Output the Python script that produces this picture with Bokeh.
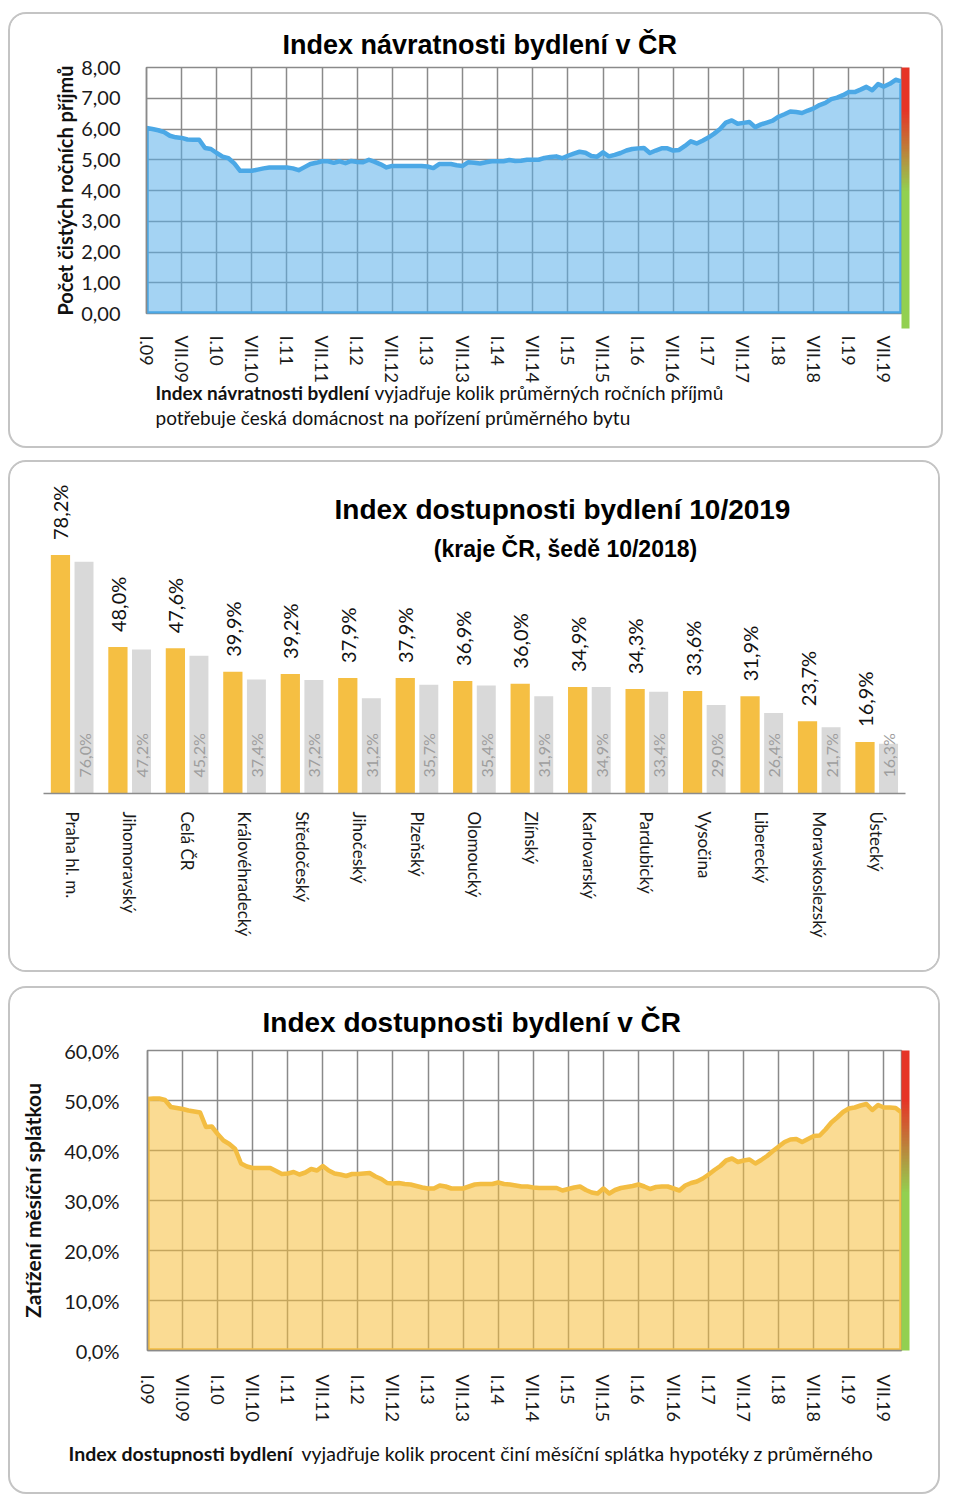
import math
from bokeh.plotting import figure
from bokeh.models import (ColumnDataSource, FixedTicker, Label, ColorBar, Title,
                          LinearColorMapper, Range1d, FactorRange)
from bokeh.transform import dodge
from bokeh.embed import file_html
from bokeh.resources import INLINE
from bokeh.core.properties import value

# ---------------- data ----------------
half_year_labels = ["I.09", "VII.09", "I.10", "VII.10", "I.11", "VII.11", "I.12", "VII.12",
                    "I.13", "VII.13", "I.14", "VII.14", "I.15", "VII.15", "I.16", "VII.16",
                    "I.17", "VII.17", "I.18", "VII.18", "I.19", "VII.19"]

# Index návratnosti bydlení (monthly, I.2009 - X.2019), násobek ročních příjmů
return_index = [6.03, 6.00, 5.96, 5.90, 5.78, 5.73, 5.71, 5.66, 5.65, 5.65,
                5.38, 5.35, 5.22, 5.10, 5.05, 4.88, 4.64, 4.64, 4.64, 4.68,
                4.72, 4.75, 4.75, 4.75, 4.75, 4.72, 4.66, 4.76, 4.86, 4.90,
                4.95, 4.95, 4.90, 4.95, 4.89, 4.96, 4.93, 4.92, 5.00, 4.93,
                4.85, 4.75, 4.80, 4.80, 4.80, 4.80, 4.80, 4.80, 4.78, 4.73,
                4.86, 4.86, 4.86, 4.82, 4.80, 4.92, 4.90, 4.88, 4.92, 4.95,
                4.95, 4.95, 4.99, 4.96, 4.97, 5.00, 5.00, 5.00, 5.06, 5.09,
                5.11, 5.05, 5.13, 5.20, 5.26, 5.23, 5.12, 5.10, 5.24, 5.11,
                5.16, 5.22, 5.30, 5.35, 5.37, 5.38, 5.22, 5.30, 5.37, 5.37,
                5.30, 5.32, 5.45, 5.60, 5.53, 5.62, 5.72, 5.85, 6.00, 6.21,
                6.28, 6.17, 6.20, 6.23, 6.06, 6.15, 6.21, 6.27, 6.40, 6.48,
                6.57, 6.55, 6.52, 6.60, 6.67, 6.78, 6.85, 6.97, 7.02, 7.10,
                7.20, 7.20, 7.28, 7.37, 7.26, 7.46, 7.38, 7.47, 7.60, 7.55]

# Index dostupnosti bydlení (monthly, I.2009 - X.2019), % příjmu
afford_index = [50.3, 50.4, 50.4, 50.1, 48.7, 48.5, 48.3, 48.0, 47.8, 47.6,
                44.7, 44.8, 43.3, 42.0, 41.3, 40.3, 37.4, 36.8, 36.5, 36.5,
                36.5, 36.5, 35.9, 35.3, 35.4, 35.7, 35.2, 35.6, 36.3, 36.0,
                36.9, 36.0, 35.4, 35.2, 34.9, 35.3, 35.3, 35.4, 35.5, 34.8,
                34.3, 33.5, 33.4, 33.5, 33.3, 33.2, 32.9, 32.6, 32.4, 32.4,
                33.0, 32.8, 32.4, 32.4, 32.4, 32.8, 33.2, 33.3, 33.3, 33.3,
                33.6, 33.3, 33.2, 33.0, 32.8, 32.8, 32.6, 32.5, 32.5, 32.5,
                32.5, 32.0, 32.3, 32.6, 32.8, 32.1, 31.6, 31.4, 32.4, 31.4,
                32.1, 32.5, 32.7, 32.9, 33.2, 32.8, 32.3, 32.7, 32.8, 32.8,
                32.4, 32.0, 33.0, 33.5, 33.8, 34.4, 35.2, 36.1, 36.9, 38.0,
                38.4, 37.7, 38.0, 38.2, 37.4, 38.1, 38.9, 39.9, 40.8, 41.7,
                42.2, 42.3, 41.7, 42.3, 42.9, 43.0, 44.2, 45.6, 46.6, 47.7,
                48.4, 48.6, 49.0, 49.3, 48.1, 49.1, 48.6, 48.6, 48.5, 47.6]

top_y_ticks = [0, 1, 2, 3, 4, 5, 6, 7, 8]
top_y_labels = ["0,00", "1,00", "2,00", "3,00", "4,00", "5,00", "6,00", "7,00", "8,00"]
bot_y_ticks = [0, 10, 20, 30, 40, 50, 60]
bot_y_labels = ["0,0%", "10,0%", "20,0%", "30,0%", "40,0%", "50,0%", "60,0%"]

regions = ["Praha hl. m.", "Jihomoravský", "Celá ČR", "Královéhradecký", "Středočeský",
           "Jihočeský", "Plzeňský", "Olomoucký", "Zlínský", "Karlovarský", "Pardubický",
           "Vysočina", "Liberecký", "Moravskoslezský", "Ústecký"]
values_2019 = [78.2, 48.0, 47.6, 39.9, 39.2, 37.9, 37.9, 36.9, 36.0, 34.9, 34.3, 33.6, 31.9, 23.7, 16.9]
values_2018 = [76.0, 47.2, 45.2, 37.4, 37.2, 31.2, 35.7, 35.4, 31.9, 34.9, 33.4, 29.0, 26.4, 21.7, 16.3]

# ---------------- style ----------------
TXT_FONT = "Lato"
TITLE_FONT = "Liberation Sans"
GRID = "#8a8a8a"
BORDER = "2px solid #C4C4C4"
FULL_PANEL = {"border": BORDER, "border-radius": "18px", "overflow": "hidden"}
TOP_PART = {"border": BORDER, "border-bottom": "none", "border-radius": "18px 18px 0 0",
            "overflow": "hidden"}
BOTTOM_PART = {"border": BORDER, "border-top": "none", "border-radius": "0 0 18px 18px",
               "overflow": "hidden"}


def gradient_palette():
    green = (0x92, 0xD0, 0x50)
    red = (0xE6, 0x34, 0x26)
    pal = []
    for i in range(100):
        if i < 52:
            t = 0.0
        elif i >= 83:
            t = 1.0
        else:
            t = (i - 52) / 31.0
        c = tuple(int(round(g + (r - g) * t)) for g, r in zip(green, red))
        pal.append("#%02x%02x%02x" % c)
    return pal


def add_colorbar(p, height):
    cb = ColorBar(color_mapper=LinearColorMapper(palette=gradient_palette(), low=0, high=1),
                  ticker=FixedTicker(ticks=[]), width=8, height=height, padding=0, margin=0,
                  location="top_left", bar_line_color=None, border_line_color=None,
                  background_fill_alpha=0, major_tick_line_color=None,
                  minor_tick_line_color=None)
    p.add_layout(cb, "right")


def label(p, x, y, text, size, bold=False, font=TXT_FONT, align="left", color="#111111",
          dx=0, dy=0):
    p.add_layout(Label(x=x, y=y, x_offset=dx, y_offset=dy, text=text,
                       text_font=font, text_font_size=f"{size}px",
                       text_font_style="bold" if bold else "normal",
                       text_align=align, text_baseline="middle", text_color=color))


def text_strip(width, height, margin):
    # transparent strip that closes the rounded panel and carries the description text
    s = figure(width=width, height=height, x_range=Range1d(0, width), y_range=Range1d(0, height),
               min_border=0, x_axis_type=None, y_axis_type=None, toolbar_location=None,
               output_backend="svg", outline_line_color=None, background_fill_alpha=0,
               border_fill_alpha=0, styles=BOTTOM_PART, margin=margin)
    return s


def line_chart(values, y_max, y_ticks, y_labels, line_color, fill_color, width, height,
               mb_left, mb_right, mb_top, mb_bottom, ylab, ylab_size, ylab_standoff,
               y_std, x_std, margin, title, title_size, title_offset, title_standoff):
    months = list(range(len(values)))
    p = figure(width=width, height=height, min_border_left=mb_left, min_border_right=mb_right,
               min_border_top=mb_top, min_border_bottom=mb_bottom,
               x_range=Range1d(months[0], months[-1]), y_range=Range1d(0, y_max),
               output_backend="svg", toolbar_location=None, background_fill_color="white",
               border_fill_color="white", styles=TOP_PART, margin=margin)
    p.title = Title(text=title, align="left", offset=title_offset, standoff=title_standoff,
                    text_font=TITLE_FONT, text_font_size=f"{title_size}px",
                    text_font_style="bold", text_color="#000000")
    xs = [months[0]] + months + [months[-1]]
    ys = [0] + list(values) + [0]
    p.patch(xs, ys, fill_color=fill_color, fill_alpha=0.55, line_color=line_color,
            line_width=4.5, line_join="round")
    tick_pos = [6 * i for i in range(len(half_year_labels))]
    p.xaxis.ticker = FixedTicker(ticks=tick_pos)
    p.xaxis.major_label_overrides = {t: s for t, s in zip(tick_pos, half_year_labels)}
    p.xaxis.major_label_orientation = "vertical"
    p.yaxis.ticker = FixedTicker(ticks=y_ticks)
    p.yaxis.major_label_overrides = {t: s for t, s in zip(y_ticks, y_labels)}
    for ax in (p.xaxis[0], p.yaxis[0]):
        ax.major_tick_line_color = None
        ax.minor_tick_line_color = None
        ax.major_label_text_font = TXT_FONT
        ax.major_label_text_color = "#1a1a1a"
        ax.axis_line_color = GRID
        ax.axis_line_width = 1.5
    p.xaxis.major_label_text_font_size = "18px"
    p.yaxis.major_label_text_font_size = "20px"
    p.xaxis.major_label_standoff = x_std
    p.yaxis.major_label_standoff = y_std
    p.yaxis.axis_label = ylab
    p.yaxis.axis_label_text_font = TXT_FONT
    p.yaxis.axis_label_text_font_style = "bold"
    p.yaxis.axis_label_text_font_size = f"{ylab_size}px"
    p.yaxis.axis_label_text_color = "#111111"
    p.yaxis.axis_label_standoff = ylab_standoff
    p.xgrid.ticker = FixedTicker(ticks=tick_pos)
    p.ygrid.ticker = FixedTicker(ticks=y_ticks)
    for g in (p.xgrid[0], p.ygrid[0]):
        g.grid_line_color = GRID
        g.grid_line_width = 1.5
    p.outline_line_color = GRID
    p.outline_line_width = 1.5
    return p


# ---------------- panel 1: Index návratnosti ----------------
p1 = line_chart(return_index, 8, top_y_ticks, top_y_labels, "#4BA8E6", "#5AAEEA",
                935, 372, 136, 44, 53, 73,
                "Počet čistých ročních příjmů", 20, 1, 20, 16, (12, 0, 0, 8),
                "Index návratnosti bydlení v ČR", 27, 136, 16)
p1.xaxis.axis_line_color = None
add_colorbar(p1, 261)

s1 = text_strip(935, 74, (-10, 0, 0, 8))
label(s1, 145, 56, "Index návratnosti bydlení", 19, True)
label(s1, 364, 56, "vyjadřuje kolik průměrných ročních příjmů", 19)
label(s1, 145, 31, "potřebuje česká domácnost na pořízení průměrného bytu", 19)

# ---------------- panel 2: regional bars ----------------
src = ColumnDataSource(dict(
    region=regions, v2019=values_2019, v2018=values_2018,
    t2019=[f"{v:.1f}%".replace(".", ",") for v in values_2019],
    t2018=[f"{v:.1f}%".replace(".", ",") for v in values_2018],
))
p2 = figure(width=932, height=512, min_border_left=33, min_border_right=37,
            min_border_top=12, min_border_bottom=181,
            x_range=FactorRange(*regions), y_range=Range1d(0, 104.6),
            output_backend="svg", toolbar_location=None, background_fill_color="white",
            border_fill_color="white", styles=FULL_PANEL, margin=(12, 0, 0, 8))
p2.vbar(x=dodge("region", -0.205, range=p2.x_range), top="v2019", width=0.335,
        fill_color="#F5BF43", line_color=None, source=src)
p2.vbar(x=dodge("region", 0.205, range=p2.x_range), top="v2018", width=0.33,
        fill_color="#D9D9D9", line_color=None, source=src)
p2.text(x=dodge("region", -0.205, range=p2.x_range), y="v2019", text="t2019", source=src,
        angle=math.pi / 2, text_align="left", text_baseline="middle", y_offset=-15,
        text_font=value(TXT_FONT), text_font_size="20px", text_color="#111111")
p2.text(x=dodge("region", 0.205, range=p2.x_range), y=0, text="t2018", source=src,
        angle=math.pi / 2, text_align="left", text_baseline="middle", y_offset=-16,
        text_font=value(TXT_FONT), text_font_size="16px", text_color="#9E9E9E")
p2.yaxis.visible = False
p2.xgrid.visible = False
p2.ygrid.visible = False
p2.outline_line_color = None
p2.xaxis.major_tick_line_color = None
p2.xaxis.minor_tick_line_color = None
p2.xaxis.axis_line_color = "#8c8c8c"
p2.xaxis.axis_line_width = 1.5
p2.xaxis.major_label_orientation = "vertical"
p2.xaxis.major_label_standoff = 12
p2.xaxis.major_label_text_font = TXT_FONT
p2.xaxis.major_label_text_font_size = "17px"
p2.xaxis.major_label_text_color = "#1a1a1a"
label(p2, 0, 0, "Index dostupnosti bydlení 10/2019", 28, True, TITLE_FONT, "center", "#000000",
      dx=519, dy=284)
label(p2, 0, 0, "(kraje ČR, šedě 10/2018)", 23, True, TITLE_FONT, "center", "#000000",
      dx=522, dy=245)

# ---------------- panel 3: Index dostupnosti ----------------
p3 = line_chart(afford_index, 60, bot_y_ticks, bot_y_labels, "#F3BD42", "#F5BD3A",
                932, 446, 137, 41, 62, 84,
                "Zatížení měsíční splátkou", 21, 16, 22, 18, (14, 0, 0, 8),
                "Index dostupnosti bydlení  v ČR", 28, 115, 25)
add_colorbar(p3, 300)

s3 = text_strip(932, 72, (-10, 0, 0, 8))
label(s3, 58, 41, "Index dostupnosti bydlení", 19.5, True)
label(s3, 291, 41, "vyjadřuje kolik procent činí  měsíční splátka hypotéky z průměrného", 19.5)

open("out.html", "w").write(file_html([p1, s1, p2, p3, s3], INLINE))
